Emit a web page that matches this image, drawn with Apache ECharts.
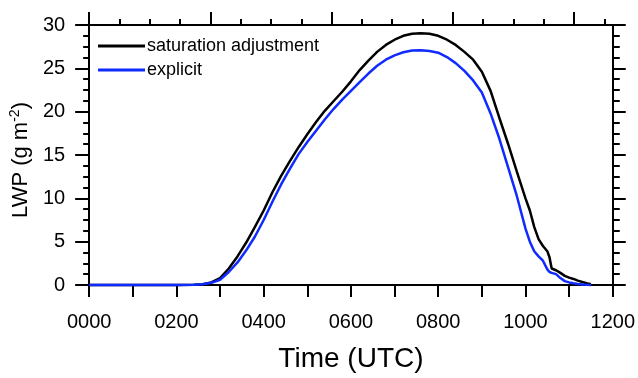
<!DOCTYPE html>
<html>
<head>
<meta charset="utf-8">
<script src="https://cdn.jsdelivr.net/npm/echarts@6/dist/echarts.min.js"></script>
<style>
html,body{margin:0;padding:0;background:#fff;}
#chart{width:638px;height:378px;}
</style>
</head>
<body>
<div id="chart"></div>
<script>
// Time in hours (UTC)
const hours = [0, 0.5, 1, 1.5, 2, 2.4, 2.6, 2.8, 3.0, 3.2, 3.4, 3.6, 3.8, 4.0, 4.2, 4.4, 4.6, 4.8, 5.0, 5.2, 5.4, 5.6, 5.8, 6.0, 6.2, 6.4, 6.6, 6.8, 7.0, 7.2, 7.4, 7.6, 7.8, 8.0, 8.2, 8.4, 8.6, 8.8, 9.0, 9.2, 9.4, 9.6, 9.8, 10.0, 10.1, 10.2, 10.3, 10.4, 10.5, 10.55, 10.6, 10.7, 10.8, 10.9, 11.0, 11.1, 11.2, 11.3, 11.4, 11.5];
// LWP (g m-2), saturation adjustment
const satAdj = [0, 0, 0, 0, 0, 0.03, 0.1, 0.3, 0.8, 1.9, 3.3, 4.9, 6.7, 8.6, 10.7, 12.6, 14.3, 15.9, 17.4, 18.8, 20.1, 21.2, 22.3, 23.5, 24.8, 25.9, 26.9, 27.7, 28.3, 28.75, 29.0, 29.05, 29.0, 28.75, 28.3, 27.7, 26.9, 26.0, 24.6, 22.4, 19.3, 16.3, 13.1, 10.0, 8.6, 6.7, 5.3, 4.5, 3.9, 3.2, 1.9, 1.7, 1.4, 1.05, 0.85, 0.7, 0.5, 0.35, 0.2, 0.1];
// LWP (g m-2), explicit
const explicitVals = [0, 0, 0, 0, 0, 0.02, 0.08, 0.25, 0.6, 1.5, 2.6, 4.0, 5.6, 7.5, 9.6, 11.6, 13.4, 15.1, 16.5, 17.8, 19.1, 20.3, 21.4, 22.4, 23.4, 24.4, 25.3, 26.0, 26.5, 26.85, 27.05, 27.1, 27.0, 26.8, 26.3, 25.6, 24.7, 23.6, 22.2, 19.8, 16.9, 13.6, 10.3, 6.5, 5.0, 3.9, 3.3, 2.8, 1.8, 1.5, 1.4, 1.25, 0.8, 0.45, 0.3, 0.2, 0.12, 0.05, 0.02, 0];
const xTickLabels = ['0000', '0200', '0400', '0600', '0800', '1000', '1200'];
// top axis (seconds)
const topMajorTicks = [0, 10000, 20000, 30000, 40000];
const topMinorTicks = [2500, 5000, 7500, 12500, 15000, 17500, 22500, 25000, 27500, 32500, 35000, 37500, 42500];
const seriesNames = ['saturation adjustment', 'explicit'];

const FONT = 'Liberation Sans';
const BLACK = '#000';
const lineStyleAx = {color: BLACK, width: 2};

const chart = echarts.init(document.getElementById('chart'), null, {renderer: 'canvas'});
const option = {
  animation: false,
  backgroundColor: '#fff',
  textStyle: {fontFamily: FONT, color: BLACK},
  grid: {left: 88, right: 23, top: 25, bottom: 89, containLabel: false},
  legend: {
    orient: 'vertical',
    left: 98,
    top: 37,
    padding: 0,
    icon: 'rect',
    itemWidth: 47,
    itemHeight: 3,
    itemGap: 6,
    textStyle: {fontFamily: FONT, fontSize: 18, color: BLACK, lineHeight: 18, padding: [0, 0, 0, -3]},
    data: seriesNames
  },
  xAxis: [
    {
      type: 'value', position: 'bottom', min: 0, max: 12, interval: 1,
      axisLine: {show: true, onZero: false, lineStyle: lineStyleAx},
      axisTick: {show: true, inside: false, length: 12, lineStyle: lineStyleAx},
      axisLabel: {
        margin: 27, fontSize: 20, color: BLACK, fontFamily: FONT,
        formatter: function (v) { return (Math.round(v) % 2 === 0) ? xTickLabels[Math.round(v) / 2] : ''; }
      },
      splitLine: {show: false},
      name: 'Time (UTC)', nameLocation: 'middle', nameGap: 60,
      nameTextStyle: {fontSize: 28, color: BLACK, fontFamily: FONT}
    },
    {
      type: 'value', position: 'top', min: 0, max: 43200,
      axisLine: {show: true, onZero: false, lineStyle: lineStyleAx},
      axisTick: {show: true, inside: false, length: 13, customValues: topMajorTicks, lineStyle: lineStyleAx},
      axisLabel: {show: false},
      splitLine: {show: false}
    },
    {
      type: 'value', position: 'top', min: 0, max: 43200,
      axisLine: {show: false, onZero: false},
      axisTick: {show: true, inside: false, length: 6, customValues: topMinorTicks, lineStyle: lineStyleAx},
      axisLabel: {show: false},
      splitLine: {show: false}
    }
  ],
  yAxis: [
    {
      type: 'value', position: 'left', min: 0, max: 30, interval: 5,
      axisLine: {show: true, onZero: false, lineStyle: lineStyleAx},
      axisTick: {show: true, inside: false, length: 14, lineStyle: lineStyleAx},
      minorTick: {show: true, splitNumber: 4, length: 6, lineStyle: lineStyleAx},
      axisLabel: {margin: 24, fontSize: 20, color: BLACK, fontFamily: FONT},
      splitLine: {show: false},
      minorSplitLine: {show: false},
      name: '{n|LWP (g m}{s|-2}{n|)}',
      nameLocation: 'middle', nameGap: 41, nameRotate: 90,
      nameTextStyle: {
        fontSize: 22, color: BLACK, fontFamily: FONT, padding: [0, 10, 0, 0],
        rich: {
          n: {fontSize: 22, lineHeight: 24, verticalAlign: 'bottom', color: BLACK, fontFamily: FONT},
          s: {fontSize: 14, lineHeight: 14, verticalAlign: 'top', color: BLACK, fontFamily: FONT}
        }
      }
    },
    {
      type: 'value', position: 'right', min: 0, max: 30, interval: 5,
      axisLine: {show: true, onZero: false, lineStyle: lineStyleAx},
      axisTick: {show: true, inside: false, length: 13, lineStyle: lineStyleAx},
      minorTick: {show: true, splitNumber: 4, length: 7, lineStyle: lineStyleAx},
      axisLabel: {show: false},
      splitLine: {show: false},
      minorSplitLine: {show: false}
    }
  ],
  series: [
    {
      name: seriesNames[0], type: 'line', xAxisIndex: 0, yAxisIndex: 0,
      showSymbol: false, symbol: 'none', smooth: false, clip: false,
      lineStyle: {color: '#000000', width: 2.5},
      itemStyle: {color: '#000000'},
      data: hours.map((h, i) => [h, satAdj[i]])
    },
    {
      name: seriesNames[1], type: 'line', xAxisIndex: 0, yAxisIndex: 0,
      showSymbol: false, symbol: 'none', smooth: false, clip: false,
      lineStyle: {color: '#0f2bff', width: 2.5},
      itemStyle: {color: '#0f2bff'},
      data: hours.map((h, i) => [h, explicitVals[i]])
    }
  ]
};
chart.setOption(option);
</script>
</body>
</html>
